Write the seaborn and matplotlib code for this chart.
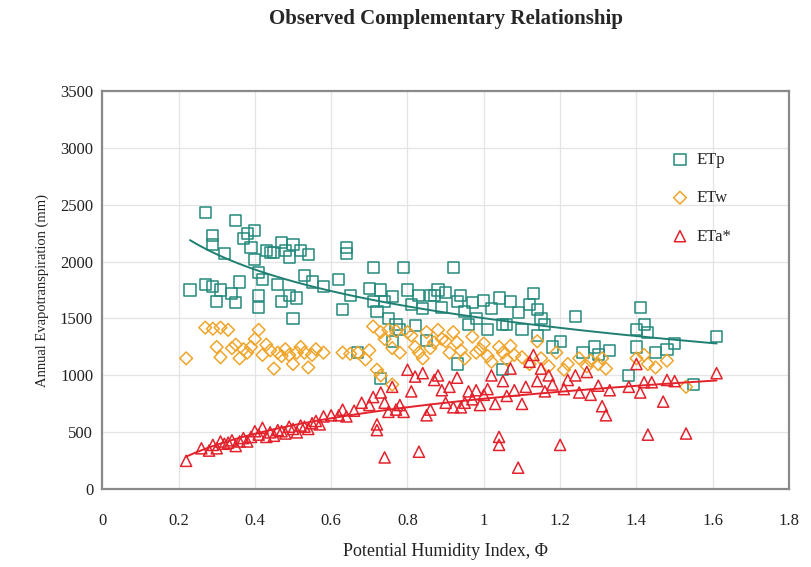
import numpy as np
import pandas as pd
import matplotlib
matplotlib.use("Agg")
import matplotlib.pyplot as plt
import seaborn as sns

# ETp (potential evapotranspiration) - teal squares
etp_phi = [0.23, 0.27, 0.27, 0.29, 0.29, 0.29, 0.30, 0.31, 0.32, 0.34, 0.35, 0.35, 0.36,
           0.37, 0.38, 0.39, 0.40, 0.40, 0.41, 0.41, 0.41, 0.42, 0.43, 0.44, 0.45, 0.46,
           0.47, 0.47, 0.48, 0.49, 0.49, 0.50, 0.50, 0.51, 0.52, 0.53, 0.54, 0.55, 0.58,
           0.62, 0.63, 0.64, 0.64, 0.65, 0.67, 0.70, 0.71, 0.71, 0.72, 0.73, 0.74, 0.75,
           0.76, 0.77, 0.78, 0.79, 0.80, 0.81, 0.82, 0.83, 0.84, 0.85, 0.86, 0.87, 0.88,
           0.89, 0.90, 0.92, 0.93, 0.94, 0.95, 0.96, 0.97, 0.98, 1.00, 1.01, 1.02, 1.04,
           1.05, 1.06, 1.07, 1.09, 1.10, 1.12, 1.13, 1.14, 1.15, 1.16, 1.18, 1.20, 1.24,
           1.26, 1.29, 1.30, 1.33, 1.38, 1.40, 1.41, 1.40, 1.42, 1.43, 1.45, 1.48, 1.50,
           1.61, 1.55, 0.73, 0.93, 0.76, 1.05, 1.14]
etp_mm = [1750, 2430, 1800, 2230, 2150, 1780, 1650, 1750, 2070, 1720, 2360, 1640, 1820,
          2200, 2250, 2120, 2270, 2020, 1900, 1600, 1700, 1840, 2100, 2080, 2080, 1800,
          2170, 1650, 2100, 2040, 1700, 2150, 1500, 1680, 2100, 1880, 2060, 1820, 1780,
          1840, 1580, 2120, 2070, 1700, 1200, 1760, 1650, 1950, 1560, 1750, 1650, 1500,
          1690, 1450, 1400, 1950, 1750, 1620, 1440, 1700, 1590, 1310, 1700, 1700, 1750,
          1600, 1730, 1950, 1650, 1700, 1560, 1450, 1640, 1500, 1660, 1400, 1590, 1680,
          1450, 1450, 1650, 1550, 1400, 1620, 1720, 1580, 1500, 1450, 1250, 1300, 1520,
          1200, 1250, 1180, 1220, 1000, 1250, 1600, 1400, 1450, 1380, 1200, 1230, 1280,
          1340, 920, 970, 1100, 1300, 1050, 1350]

# ETw (wet-environment evapotranspiration) - orange diamonds
etw_phi = [0.22, 0.27, 0.29, 0.30, 0.31, 0.31, 0.33, 0.34, 0.35, 0.36, 0.37, 0.38, 0.39,
           0.40, 0.41, 0.42, 0.43, 0.44, 0.45, 0.46, 0.47, 0.48, 0.49, 0.50, 0.51, 0.52,
           0.53, 0.54, 0.55, 0.56, 0.58, 0.63, 0.65, 0.67, 0.69, 0.70, 0.71, 0.72, 0.73,
           0.74, 0.75, 0.76, 0.77, 0.78, 0.80, 0.81, 0.82, 0.83, 0.84, 0.85, 0.86, 0.87,
           0.88, 0.89, 0.90, 0.91, 0.92, 0.93, 0.94, 0.95, 0.97, 0.98, 0.99, 1.00, 1.01,
           1.02, 1.04, 1.05, 1.06, 1.07, 1.08, 1.10, 1.12, 1.14, 1.15, 1.17, 1.19, 1.21,
           1.22, 1.25, 1.27, 1.28, 1.30, 1.31, 1.32, 1.40, 1.42, 1.43, 1.45, 1.48, 1.53,
           0.73, 0.76]
etw_mm = [1150, 1420, 1410, 1250, 1420, 1160, 1400, 1240, 1270, 1150, 1230, 1200, 1250,
          1320, 1400, 1180, 1270, 1220, 1060, 1200, 1170, 1230, 1180, 1100, 1200, 1250,
          1200, 1070, 1180, 1230, 1200, 1200, 1190, 1200, 1140, 1220, 1430, 1050, 1380,
          1320, 1400, 1240, 1390, 1200, 1380, 1350, 1250, 1200, 1150, 1380, 1240, 1290,
          1400, 1320, 1300, 1200, 1380, 1290, 1220, 1150, 1340, 1200, 1230, 1280, 1170,
          1120, 1250, 1200, 1140, 1260, 1180, 1160, 1100, 1300, 1150, 1080, 1200, 1050,
          1100, 1150, 1080, 1130, 1100, 1150, 1060, 1150, 1180, 1100, 1070, 1130, 900,
          1000, 920]

# ETa* (actual evapotranspiration) - red triangles
eta_phi = [0.22, 0.26, 0.28, 0.29, 0.30, 0.31, 0.32, 0.33, 0.34, 0.35, 0.36, 0.37, 0.38,
           0.39, 0.40, 0.41, 0.42, 0.43, 0.44, 0.45, 0.46, 0.47, 0.48, 0.49, 0.50, 0.51,
           0.52, 0.53, 0.54, 0.55, 0.56, 0.57, 0.58, 0.60, 0.62, 0.63, 0.64, 0.66, 0.68,
           0.70, 0.71, 0.72, 0.72, 0.73, 0.74, 0.74, 0.75, 0.76, 0.77, 0.78, 0.79, 0.80,
           0.81, 0.82, 0.83, 0.84, 0.85, 0.86, 0.87, 0.88, 0.89, 0.90, 0.91, 0.92, 0.93,
           0.94, 0.95, 0.96, 0.97, 0.98, 0.99, 1.00, 1.01, 1.02, 1.03, 1.04, 1.04, 1.05,
           1.06, 1.07, 1.08, 1.09, 1.10, 1.11, 1.12, 1.13, 1.14, 1.15, 1.16, 1.17, 1.18,
           1.20, 1.21, 1.22, 1.24, 1.25, 1.27, 1.28, 1.30, 1.31, 1.32, 1.33, 1.38, 1.40,
           1.41, 1.42, 1.43, 1.44, 1.47, 1.48, 1.50, 1.53, 1.61]
eta_mm = [250, 360, 340, 390, 360, 420, 400, 410, 430, 380, 420, 450, 420,
          460, 510, 480, 540, 460, 500, 470, 520, 510, 490, 550, 530, 500,
          560, 550, 530, 580, 600, 570, 640, 650, 650, 700, 640, 690, 760,
          740, 810, 570, 520, 850, 280, 760, 680, 900, 700, 740, 680, 1050,
          860, 990, 330, 1020, 650, 700, 960, 1000, 870, 760, 900, 720, 980,
          720, 760, 860, 790, 870, 740, 830, 880, 1000, 750, 460, 390, 950,
          820, 1060, 870, 190, 750, 900, 1120, 1180, 950, 1060, 860, 1000, 920,
          390, 880, 960, 1000, 850, 1030, 830, 910, 730, 650, 870, 900, 1100,
          850, 940, 480, 940, 770, 960, 950, 490, 1020]

series_names = ["ETp", "ETw", "ETa*"]
series_colors = ["#23897c", "#f0a52a", "#e3222c"]
series_markers = ["s", "D", "^"]
series_sizes = [64, 42, 64]

plt.rcParams["font.family"] = ["Liberation Serif", "DejaVu Serif"]
sns.set_style("whitegrid")
plt.rcParams["font.family"] = ["Liberation Serif", "DejaVu Serif"]

fig = plt.figure(figsize=(8.11, 5.67), dpi=100)
ax = fig.add_axes([0.126, 0.137, 0.847, 0.703])

data = [(etp_phi, etp_mm), (etw_phi, etw_mm), (eta_phi, eta_mm)]
for (px, py), name, col, mk, sz in zip(data, series_names, series_colors, series_markers, series_sizes):
    df = pd.DataFrame({"phi": px, "et": py})
    sns.scatterplot(data=df, x="phi", y="et", ax=ax, marker=mk, s=sz,
                    facecolor="none", edgecolor=col, linewidth=1.1, label=name, zorder=3)

# logarithmic trend lines for ETp and ETa*
for (px, py), col in [(data[0], "#1f7f72"), (data[2], series_colors[2])]:
    df = pd.DataFrame({"phi": px, "et": py})
    sns.regplot(data=df, x="phi", y="et", ax=ax, scatter=False, logx=True, ci=None,
                line_kws={"color": col, "linewidth": 1.4, "zorder": 4})

ax.set_xlim(0, 1.8)
ax.set_ylim(0, 3500)
ax.set_xticks(np.arange(0, 1.81, 0.2))
ax.set_xticklabels(["0", "0.2", "0.4", "0.6", "0.8", "1", "1.2", "1.4", "1.6", "1.8"])
ax.set_yticks(np.arange(0, 3501, 500))
ax.tick_params(axis="both", labelsize=12, colors="#222222", length=3, width=0.8)
ax.tick_params(axis="x", pad=14)
ax.grid(True, color="#e4e4e4", linewidth=0.9)
for sp in ax.spines.values():
    sp.set_color("#8a8a8a")
    sp.set_linewidth(1.6)

ax.set_xlabel("Potential Humidity Index, \u03a6", fontsize=13, color="#222222", labelpad=10)
ax.set_ylabel("Annual Evapotranspiration (mm)", fontsize=10.5, color="#222222", labelpad=8)
fig.suptitle("Observed Complementary Relationship", fontsize=15, fontweight="bold",
             x=0.55, y=0.985)

leg = ax.legend(loc="upper left", bbox_to_anchor=(0.795, 0.885), frameon=False,
                fontsize=12, handletextpad=0.0, labelspacing=1.35, markerscale=1.0)

fig.savefig("out.png", dpi=100)
